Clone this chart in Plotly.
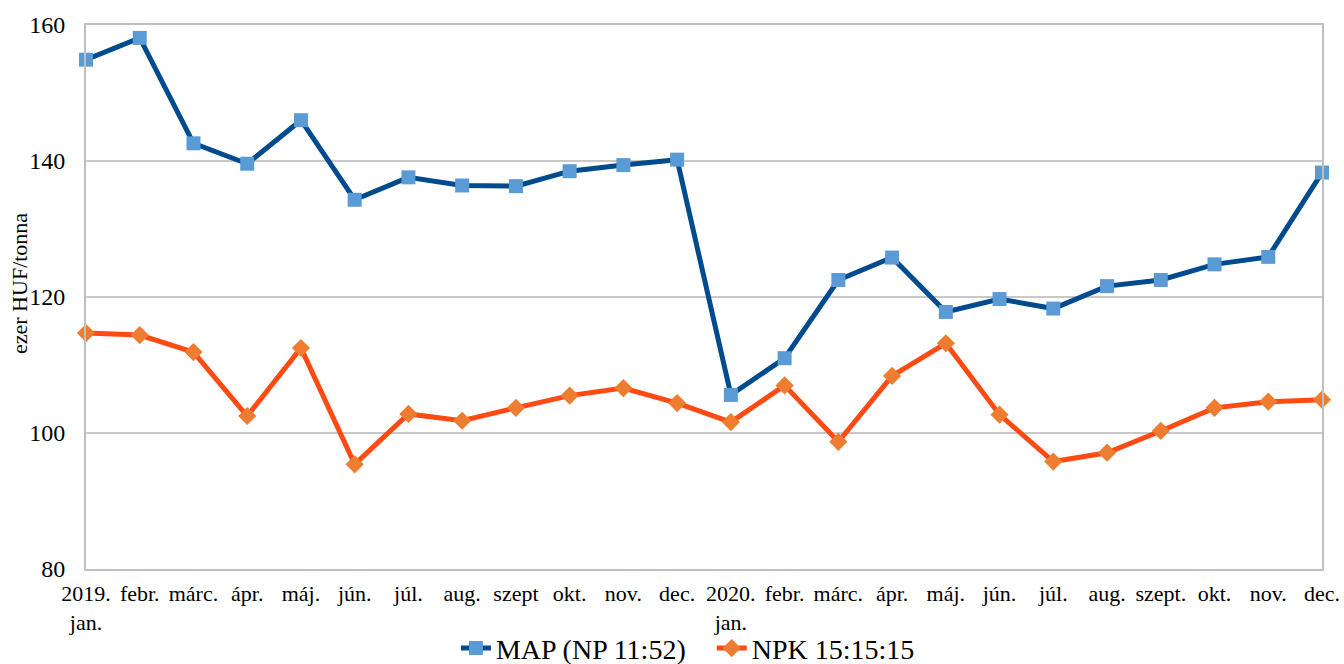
import plotly.graph_objects as go

months = ["2019.<br>jan.", "febr.", "márc.", "ápr.", "máj.", "jún.", "júl.", "aug.", "szept", "okt.", "nov.", "dec.",
          "2020.<br>jan.", "febr.", "márc.", "ápr.", "máj.", "jún.", "júl.", "aug.", "szept.", "okt.", "nov.", "dec."]
map_vals = [154.9, 158.1, 142.6, 139.6, 146.0, 134.3, 137.6, 136.4, 136.3, 138.5, 139.4, 140.2,
            105.6, 111.0, 122.5, 125.8, 117.8, 119.7, 118.3, 121.6, 122.5, 124.8, 125.9, 138.3]
npk_vals = [114.7, 114.4, 111.9, 102.5, 112.5, 95.4, 102.8, 101.8, 103.7, 105.5, 106.6, 104.4,
            101.6, 107.0, 98.7, 108.4, 113.2, 102.7, 95.8, 97.1, 100.3, 103.7, 104.6, 104.9]
idx = list(range(len(months)))

font = "Liberation Serif, Times New Roman, serif"
fig = go.Figure()
fig.add_trace(go.Scatter(x=idx, y=map_vals, name="MAP (NP 11:52)\u00a0\u00a0\u00a0", mode="lines+markers",
                         line=dict(color="#004B8D", width=5),
                         marker=dict(symbol="square", size=14, color="#5B9BD5"), cliponaxis=False))
fig.add_trace(go.Scatter(x=idx, y=npk_vals, name="NPK 15:15:15", mode="lines+markers",
                         line=dict(color="#FF4A14", width=5),
                         marker=dict(symbol="diamond", size=14, color="#ED7D31"), cliponaxis=False))
fig.update_layout(
    width=1344, height=664, plot_bgcolor="white", paper_bgcolor="white",
    margin=dict(l=86, r=22, t=25, b=95, autoexpand=False),
    font=dict(family=font, color="black", size=22),
    showlegend=True,
    legend=dict(orientation="h", x=0.487, xanchor="center", y=-0.146, yanchor="middle",
                font=dict(size=28), tracegroupgap=0, bgcolor="rgba(0,0,0,0)"),
    xaxis=dict(range=[0, 23], tickmode="array", tickvals=idx, ticktext=months,
               tickfont=dict(size=22), showgrid=False, showline=True, linecolor="#BFBFBF",
               linewidth=2, mirror=True, ticks="", ticklabelstandoff=4, zeroline=False,
               automargin=False),
    yaxis=dict(range=[80, 160], dtick=20, tickfont=dict(size=24), showgrid=True,
               gridcolor="#C8C8C8", gridwidth=1.5, showline=True, linecolor="#BFBFBF", linewidth=2,
               mirror=True, ticks="", ticklabelstandoff=14, zeroline=False, automargin=False),
    annotations=[dict(text="ezer HUF/tonna", xref="paper", yref="paper", x=0, y=0.5,
                      xanchor="center", yanchor="middle", xshift=-67, yshift=13,
                      textangle=-90, showarrow=False, font=dict(size=22))],
)
fig.write_html("out.html", config={"displayModeBar": False},
               post_script="document.body.style.margin='0';document.body.style.padding='0';")
